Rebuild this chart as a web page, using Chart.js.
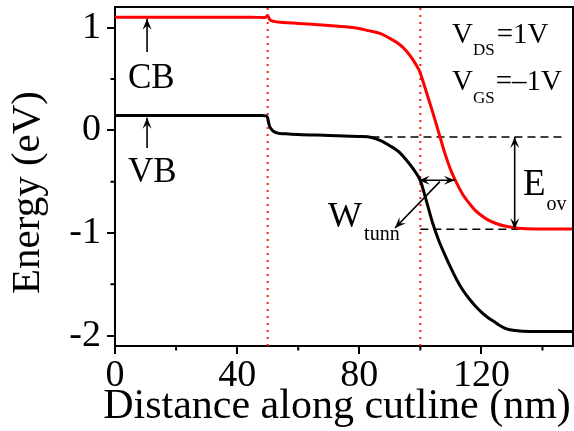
<!DOCTYPE html>
<html><head><meta charset="utf-8">
<script src="https://cdn.jsdelivr.net/npm/chart.js@4.4.1/dist/chart.umd.min.js"></script>
<style>html,body{margin:0;padding:0;background:#fff;}#wrap{width:574px;height:431px;}</style>
</head><body><div id="wrap"><canvas id="c" width="574" height="431"></canvas></div>
<script>
// ---- data ----
const cbDistance = [0, 20, 45, 48, 49.3, 50.0, 50.6, 52, 55, 60, 70, 78, 83, 87, 90, 93, 95.5, 97.5, 99.5, 100, 102, 104, 106, 108, 110, 112, 114, 116, 118, 120, 122, 125, 128, 132, 138, 150];
const cbEnergy   = [1.10, 1.10, 1.10, 1.098, 1.10, 1.118, 1.08, 1.06, 1.05, 1.04, 1.02, 1.00, 0.97, 0.94, 0.895, 0.84, 0.77, 0.69, 0.59, 0.555, 0.37, 0.18, -0.02, -0.22, -0.39, -0.52, -0.63, -0.71, -0.78, -0.83, -0.87, -0.91, -0.935, -0.953, -0.96, -0.96];
const vbDistance = [0, 20, 48, 49.5, 50.0, 50.5, 51.5, 53, 56, 60, 70, 80, 84, 87, 90, 93, 95, 98, 100, 102, 104, 106, 108, 110, 112, 114, 116, 118, 120, 122, 124, 126, 128, 131, 136, 150];
const vbEnergy   = [0.145, 0.145, 0.145, 0.14, 0.12, 0.05, 0.0, -0.025, -0.035, -0.042, -0.05, -0.06, -0.07, -0.10, -0.15, -0.21, -0.275, -0.39, -0.49, -0.69, -0.90, -1.07, -1.21, -1.34, -1.46, -1.56, -1.64, -1.71, -1.77, -1.82, -1.86, -1.90, -1.93, -1.95, -1.96, -1.96];
const interfaceDistance = [50, 100];
const ovLevels = [-0.065, -0.963];          // dashed reference levels (eV)
const ovLevelSpans = [[84, 147.7], [100, 135]];
const xTickValues = [0, 40, 80, 120];
const xMinorTicks = [20, 60, 100, 140];
const yTickValues = [1, 0, -1, -2];
const yMinorTicks = [0.5, -0.5, -1.5];
const tunnelArrowY = -0.486, tunnelArrowX = [99.5, 111.3];
const eovArrowX = 130.9;
const xTitle = 'Distance along cutline (nm)';
const yTitle = 'Energy (eV)';

const SERIF = '"Liberation Serif", "Times New Roman", serif';
const pts = (xs, ys) => xs.map((x, i) => ({x, y: ys[i]}));

const annot = {
  id: 'annot',
  afterDraw(chart) {
    const {ctx, chartArea: a, scales: {x, y}} = chart;
    const X = v => x.getPixelForValue(v), Y = v => y.getPixelForValue(v);
    ctx.save();
    // box (top/right)
    ctx.strokeStyle = '#000'; ctx.lineWidth = 2;
    ctx.beginPath(); ctx.moveTo(a.left, a.top); ctx.lineTo(a.right, a.top); ctx.lineTo(a.right, a.bottom); ctx.stroke();
    // minor ticks
    ctx.beginPath();
    xMinorTicks.forEach(v => { ctx.moveTo(X(v), a.bottom); ctx.lineTo(X(v), a.bottom + 4.5); });
    yMinorTicks.forEach(v => { ctx.moveTo(a.left, Y(v)); ctx.lineTo(a.left - 4.5, Y(v)); });
    ctx.stroke();

    function head(x1, y1, x2, y2) {
      const ang = Math.atan2(y2 - y1, x2 - x1), L = 11, W = 4.5;
      ctx.beginPath();
      ctx.moveTo(x2, y2);
      ctx.lineTo(x2 - L * Math.cos(ang) + W * Math.sin(ang), y2 - L * Math.sin(ang) - W * Math.cos(ang));
      ctx.lineTo(x2 - 0.6 * L * Math.cos(ang), y2 - 0.6 * L * Math.sin(ang));
      ctx.lineTo(x2 - L * Math.cos(ang) - W * Math.sin(ang), y2 - L * Math.sin(ang) + W * Math.cos(ang));
      ctx.closePath(); ctx.fill();
    }
    function arrow(x1, y1, x2, y2, both) {
      ctx.beginPath(); ctx.moveTo(x1, y1); ctx.lineTo(x2, y2); ctx.stroke();
      head(x1, y1, x2, y2);
      if (both) head(x2, y2, x1, y1);
    }
    ctx.fillStyle = '#000'; ctx.strokeStyle = '#000'; ctx.lineWidth = 1.6;
    // CB / VB pointers
    arrow(X(10.5), Y(0.762), X(10.5), Y(1.085), false);
    arrow(X(10.5), Y(-0.173), X(10.5), Y(0.122), false);
    // tunnelling width
    arrow(X(tunnelArrowX[0]), Y(tunnelArrowY), X(tunnelArrowX[1]), Y(tunnelArrowY), true);
    arrow(X(106.4), Y(-0.50), X(91.7), Y(-0.951), false);
    // E_ov
    arrow(X(eovArrowX), Y(ovLevels[0]), X(eovArrowX), Y(ovLevels[1]), true);

    // texts
    ctx.textBaseline = 'alphabetic'; ctx.textAlign = 'left';
    const txt = (s, px, py, size) => { ctx.font = size + 'px ' + SERIF; ctx.fillText(s, px, py); return ctx.measureText(s).width; };
    txt('CB', X(4.26), Y(0.41), 35);
    txt('VB', X(4.26), Y(-0.503), 35);
    let cx = X(110.4), by = Y(0.85);
    cx += txt('V', cx, by, 29); cx += txt('DS', cx, by + 12, 17); txt('=1V', cx + 2, by, 29);
    cx = X(110.4); by = Y(0.393);
    cx += txt('V', cx, by, 29); cx += txt('GS', cx, by + 13, 17); txt('=\u20131V', cx + 1, by, 29);
    cx = X(133.6); by = Y(-0.63);
    cx += txt('E', cx, by, 37); txt('ov', cx + 1, by + 15, 20);
    cx = X(69.8); by = Y(-0.94);
    cx += txt('W', cx, by, 36); txt('tunn', cx + 2, by + 13, 20);

    // axis titles
    ctx.font = '42px ' + SERIF; ctx.textAlign = 'center'; ctx.textBaseline = 'alphabetic';
    ctx.fillText(xTitle, (a.left + a.right) / 2 - 7, 418);
    ctx.save();
    ctx.translate(39, (a.top + a.bottom) / 2 + 16);
    ctx.rotate(-Math.PI / 2);
    ctx.font = '41px ' + SERIF;
    ctx.fillText(yTitle, 0, 0);
    ctx.restore();
    ctx.restore();
  }
};

new Chart(document.getElementById('c'), {
  type: 'line',
  data: {
    datasets: [
      {label: 'CB', data: pts(cbDistance, cbEnergy), borderColor: '#ff0000', borderWidth: 3, pointRadius: 0, cubicInterpolationMode: 'monotone', order: 1},
      {label: 'VB', data: pts(vbDistance, vbEnergy), borderColor: '#000000', borderWidth: 3, pointRadius: 0, cubicInterpolationMode: 'monotone', order: 2},
      ...interfaceDistance.map(d => ({label: 'interface', data: [{x: d, y: -2.1}, {x: d, y: 1.2}], borderColor: '#ff1a1a', borderWidth: 2, borderDash: [2, 5], pointRadius: 0, order: 5})),
      ...ovLevels.map((lv, i) => ({label: 'level', data: [{x: ovLevelSpans[i][0], y: lv}, {x: ovLevelSpans[i][1], y: lv}], borderColor: '#000', borderWidth: 1.5, borderDash: [8, 5], pointRadius: 0, order: 4}))
    ]
  },
  options: {
    responsive: false, animation: false, devicePixelRatio: 1,
    layout: {padding: {top: 7, right: 1, left: 0, bottom: 0}},
    plugins: {legend: {display: false}, tooltip: {enabled: false}},
    scales: {
      x: {
        type: 'linear', min: 0, max: 150,
        afterBuildTicks: s => { s.ticks = xTickValues.map(v => ({value: v})); },
        afterFit: s => { s.height = 85; s.paddingLeft = 0; s.paddingRight = 0; },
        ticks: {font: {family: SERIF, size: 38, lineHeight: 1}, color: '#000', padding: 3, maxRotation: 0, autoSkip: false},
        grid: {drawOnChartArea: false, tickLength: 8, color: '#000', lineWidth: 2},
        border: {color: '#000', width: 2},
        title: {display: false}
      },
      y: {
        type: 'linear', min: -2.1, max: 1.2,
        afterBuildTicks: s => { s.ticks = yTickValues.map(v => ({value: v})); },
        afterFit: s => { s.width = 115; s.paddingTop = 0; s.paddingBottom = 0; },
        ticks: {font: {family: SERIF, size: 38, lineHeight: 1}, color: '#000', padding: 6, callback: v => String(v)},
        grid: {drawOnChartArea: false, tickLength: 8, color: '#000', lineWidth: 2},
        border: {color: '#000', width: 2},
        title: {display: false}
      }
    }
  },
  plugins: [annot]
});
</script></body></html>
